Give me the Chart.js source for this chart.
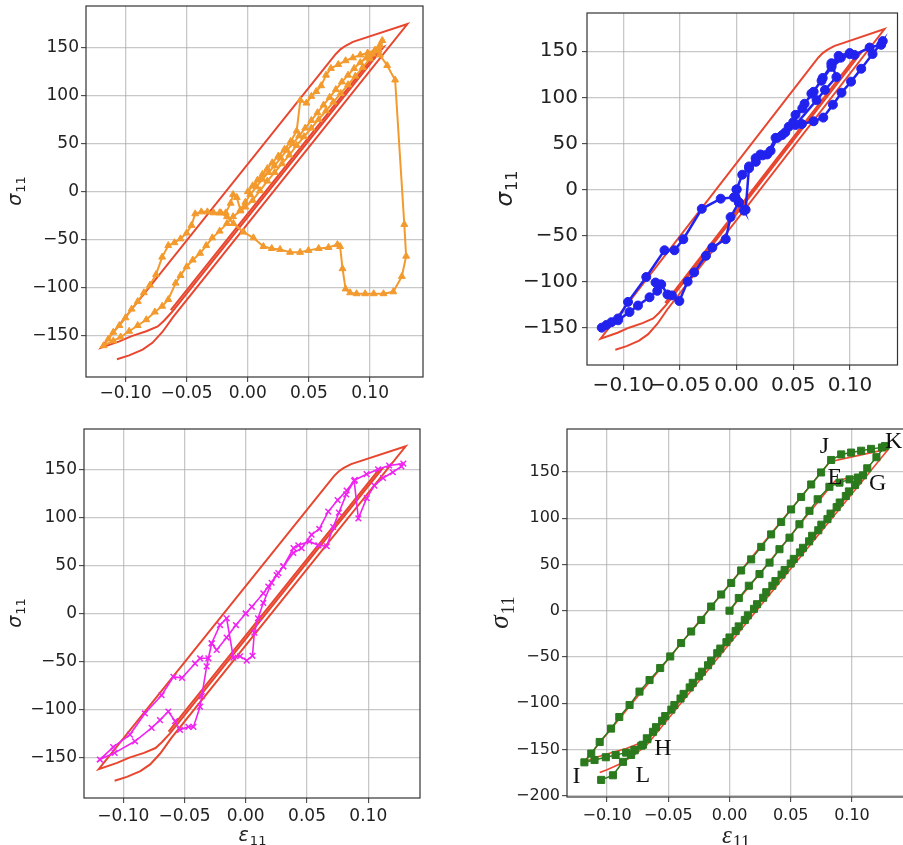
<!DOCTYPE html>
<html>
<head>
<meta charset="utf-8">
<script src="https://cdn.jsdelivr.net/npm/chart.js@4.4.0/dist/chart.umd.min.js"></script>
<style>
body { margin: 0; background: #fff; width: 903px; height: 845px; overflow: hidden; position: relative; }
canvas { position: absolute; }
</style>
</head>
<body>
<canvas id="c1" width="450" height="405" style="left:0;top:0"></canvas>
<canvas id="c2" width="453" height="405" style="left:450px;top:0"></canvas>
<canvas id="c3" width="450" height="435" style="left:0;top:410px"></canvas>
<canvas id="c4" width="460" height="435" style="left:450px;top:410px"></canvas>
<script>
// tick values
const xTicks = [-0.10, -0.05, 0.00, 0.05, 0.10];
const yTicks = [-150, -100, -50, 0, 50, 100, 150];
const yTicks4 = [-200, -150, -100, -50, 0, 50, 100, 150];

// reference curve (red) used in the first three panels, [strain, stress]
const refPath = [[-0.063,-123],[0.1075,148],[0.111,150],[-0.062,-125],[-0.0685,-134],[-0.0736,-140],[-0.083,-145],
  [-0.095,-150],[-0.105,-155.5],[-0.12,-162],[0.072,143],[0.076,148],[0.08,151.5],[0.086,155.5],[0.1305,174],
  [-0.061,-130],[-0.066,-139],[-0.07,-146],[-0.078,-157],[-0.086,-164],[-0.097,-170],[-0.107,-174]];

// reference curve (red) of the last panel
const refPath4 = [[0,0],[0.086,140],[0.111,148],[-0.066,-139],[-0.0707,-142],[-0.0843,-149],[-0.1,-155],[-0.11,-159],
  [-0.119,-164],[0.082,161],[0.13,175],[-0.068,-146],[-0.08,-158],[-0.09,-166],[-0.1,-172],[-0.106,-175]];

// orange prediction (panel 1)
const orangePath = [[0,0],[0.004,6],[0.008,12],[0.012,18],[0.016,24],[0.02,30],[0.025,37],[0.03,44],[0.035,52],[0.04,63],
  [0.043,95],[0.048,92],[0.052,99],[0.056,104],[0.06,110],[0.064,121],[0.068,128],[0.074,132],[0.08,136],[0.086,139],
  [0.092,142],[0.098,144],[0.104,147],[0.108,152],
  [0.105,146],[0.1,138],[0.094,129],[0.088,120],[0.082,111],[0.076,102],[0.07,93],[0.064,84],[0.058,75],[0.052,66],
  [0.046,57],[0.04,48],[0.034,38],[0.028,29],[0.022,20],[0.016,11],[0.01,1],[0.004,-9],[-0.002,-16],[-0.006,-20],
  [-0.012,-26],[-0.017,-33],[-0.023,-41],[-0.029,-48],[-0.034,-56],[-0.039,-64],[-0.045,-71],[-0.05,-78],[-0.055,-87],
  [-0.059,-95],[-0.065,-112],[-0.07,-119],[-0.076,-125],[-0.083,-133],[-0.09,-139],[-0.097,-145],[-0.104,-151],
  [-0.11,-155],[-0.118,-160],
  [-0.114,-153],[-0.11,-146],[-0.105,-139],[-0.1,-131],[-0.095,-122],[-0.09,-114],[-0.085,-105],[-0.08,-97],[-0.075,-86],
  [-0.07,-68],[-0.065,-56],[-0.06,-53],[-0.055,-49],[-0.05,-43],[-0.046,-35],[-0.043,-23],[-0.038,-21],[-0.033,-21],
  [-0.028,-22],[-0.023,-22],[-0.018,-22],[-0.014,-12],[-0.012,-3],[-0.009,-6],[-0.006,-19],[-0.002,-11],[0.002,-3],
  [0.007,5],[0.012,13],[0.017,20],[0.022,27],[0.027,35],[0.032,43],[0.037,50],[0.042,58],[0.047,66],[0.052,74],
  [0.057,82],[0.062,90],[0.067,98],[0.072,106],[0.077,114],[0.082,121],[0.087,128],[0.092,134],[0.097,139],
  [0.102,143],[0.107,147],[0.11,157],
  [0.108,142],[0.114,131],[0.1205,116],[0.128,-34],[0.1295,-67],[0.126,-88],[0.119,-104],[0.111,-106],[0.103,-106],
  [0.096,-106],[0.089,-106],[0.0837,-105],[0.08,-101],[0.0775,-80],[0.0755,-57],[0.0733,-55],[0.066,-58],[0.058,-59],
  [0.0496,-61],[0.0428,-63],[0.0346,-63],[0.0264,-60],[0.0196,-59],[0.0128,-57],[0.0046,-48],[-0.0035,-42],
  [-0.0117,-33],[-0.017,-26],[-0.022,-22]];

// blue prediction (panel 2)
const bluePath = [[0,0],[0.005,16],[0.011,23],[0.0168,34],[0.021,38],[0.027,38],[0.0344,56],[0.0402,59],[0.046,68],
  [0.052,81],[0.06,93],[0.068,106],[0.076,121],[0.0838,135],[0.092,143],[0.0998,147],[0.104,146],[0.1174,154],
  [0.1276,157],[0.129,161],[0.12,147],[0.11,131],[0.101,117],[0.0926,105],[0.085,92],[0.0765,78],[0.068,74],
  [0.0576,71],[0.052,70],[0.0706,97],[0.078,108],[0.0881,122],[0.0837,137],[0.09,145],[0.0998,148],
  [0.0838,133],[0.075,118],[0.066,104],[0.058,88],[0.05,73],[0.043,62],[0.036,56],[0.03,42],[0.023,37],[0.017,30],
  [0.011,25],[0.008,-22],[0.002,-14],[-0.0053,-30],[-0.0096,-54],[-0.0214,-63],[-0.027,-72],[-0.0374,-90],
  [-0.0432,-100],[-0.0505,-121],[-0.057,-115],[-0.061,-114],[-0.0665,-103],[-0.0715,-101],[-0.07,-110],
  [-0.0768,-117],[-0.087,-126],[-0.0945,-133],[-0.1046,-142],[-0.1148,-147],[-0.119,-150],
  [-0.1104,-144],[-0.1046,-140],[-0.0958,-122],[-0.0797,-95],[-0.0636,-66],[-0.0548,-66],[-0.047,-54],
  [-0.0307,-21],[-0.014,-10],[-0.0023,-8.5],[0.002,-14],[0.0066,-23],[0,0]];

// magenta prediction (panel 3)
const magentaPath = [[0,0],[0.005,7],[0.0143,21],[0.0184,28],[0.0252,40],[0.0306,49],[0.0388,63],[0.0456,68],
  [0.0537,82],[0.06,88],[0.0673,106],[0.075,118],[0.0823,128],[0.089,139],[0.0986,145],[0.108,150],[0.117,154],
  [0.1286,156],[0.127,153],[0.12,147],[0.112,141],[0.105,133],[0.0987,120],[0.0919,99],[0.0885,138],[0.082,124],
  [0.076,105],[0.0714,90],[0.0661,70],[0.0592,71],[0.052,75],[0.0429,71],[0.039,68],[0.0307,49],[0.0266,42],
  [0.0211,32],[0.0143,11],[0.01,-5],[0.007,-20],[0.0055,-44],[0.0008,-49],[-0.0046,-44.5],[-0.0101,-46],
  [-0.0156,-5],[-0.021,-12],[-0.0278,-31],[-0.0305,-46.6],[-0.0373,-46.6],[-0.0414,-52],[-0.052,-67],[-0.059,-66],
  [-0.0687,-85],[-0.0823,-104],[-0.0945,-126],[-0.1082,-139],[-0.119,-152],[-0.107,-145],[-0.0904,-133],
  [-0.0768,-119],[-0.07,-111],[-0.0632,-102],[-0.0577,-112],[-0.0537,-121],[-0.0468,-118],[-0.0427,-118],
  [-0.0373,-97],[-0.0359,-86],[-0.0319,-55],[-0.0278,-31],[-0.0237,-38],[-0.0156,-25],[-0.008,-12],[0,0]];

// green prediction (panel 4)
const greenPath = [[0,0],[0.0076,13.7],[0.0158,27],[0.0245,39.6],[0.0327,52],[0.0408,66.5],[0.049,79],[0.0571,93.5],
  [0.0653,108],[0.072,120.5],[0.0816,134],[0.0898,138.5],[0.098,142],[0.1048,144],[0.109,146.4],
  [0.1025,136],[0.095,124],[0.0875,112],[0.08,99],[0.0725,87],[0.065,75],[0.0575,63],[0.05,51],[0.0425,39],
  [0.035,27],[0.0275,14],[0.02,2],[0.0125,-10],[0.005,-22],[-0.0025,-34],[-0.01,-46],[-0.0175,-59],[-0.025,-71],
  [-0.0325,-83],[-0.04,-95],[-0.0475,-107],[-0.055,-119],[-0.0625,-131],[-0.067,-139],
  [-0.0707,-145],[-0.0776,-150.5],[-0.0844,-153.5],[-0.093,-156],[-0.101,-158.5],[-0.1102,-161.5],[-0.1185,-164],
  [-0.1129,-154.5],[-0.106,-142],[-0.0967,-127.5],[-0.09,-115],[-0.0816,-102],[-0.0735,-87.5],[-0.0653,-75],
  [-0.0566,-62],[-0.0484,-49.5],[-0.0395,-35],[-0.0313,-22.5],[-0.0231,-10],[-0.015,4.5],[-0.0068,17.5],
  [0.0014,30],[0.0095,43.5],[0.0177,55.5],[0.0259,69],[0.034,82.5],[0.0422,96],[0.0503,109.5],[0.0585,123],
  [0.0667,136.5],[0.0748,149.5],[0.083,163],
  [0.0912,169],[0.0993,171],[0.1075,173],[0.1156,175],[0.1245,176.5],[0.127,178],
  [0.12,166],[0.1125,154],[0.105,141],[0.0975,129],[0.09,117],[0.0825,105],[0.075,93],[0.0675,81],[0.06,68],
  [0.0525,56],[0.045,44],[0.0375,32],[0.03,20],[0.0225,7],[0.015,-5],[0.0075,-17],[0,-29],[-0.0075,-41],
  [-0.015,-54],[-0.0225,-66],[-0.03,-78],[-0.0375,-90],[-0.045,-102],[-0.0525,-114],[-0.06,-126],[-0.0675,-138],
  [-0.072,-146],[-0.0775,-151],[-0.0803,-156],[-0.087,-163.5],[-0.0952,-178],[-0.1048,-183]];

// point letters of panel 4
const letterNames = ['J', 'K', 'E', 'G', 'H', 'I', 'L'];
const letterX = [0.0776, 0.134, 0.086, 0.121, -0.0544, -0.125, -0.0707];
const letterY = [177, 183, 144, 137, -149, -180, -179];

const gridColor = 'rgba(170,170,170,0.65)';
const redColor = '#e8462f';

function pts(path) {
  return path.map(function (p) { return {x: p[0], y: p[1]}; });
}
function fmtX(v) { return Number(v).toFixed(2).replace('-', '\u2212'); }
function fmtY(v) { return String(v).replace('-', '\u2212'); }

const framePlugin = {
  id: 'frame',
  afterDraw: function (chart) {
    const a = chart.chartArea, ctx = chart.ctx;
    ctx.save();
    ctx.strokeStyle = '#333';
    ctx.lineWidth = 1.2;
    ctx.strokeRect(a.left, a.top, a.right - a.left, a.bottom - a.top);
    ctx.restore();
  }
};

const letterPlugin = {
  id: 'letters',
  afterDatasetsDraw: function (chart) {
    const ctx = chart.ctx, xs = chart.scales.x, ys = chart.scales.y;
    ctx.save();
    ctx.font = '24px "Liberation Serif"';
    ctx.fillStyle = '#111';
    ctx.textAlign = 'center';
    ctx.textBaseline = 'middle';
    for (let i = 0; i < letterNames.length; i++) {
      ctx.fillText(letterNames[i], xs.getPixelForValue(letterX[i]), ys.getPixelForValue(letterY[i]));
    }
    ctx.restore();
  }
};

// symbol with a "11" subscript, like the mathtext labels
function drawSymbol(ctx, sym, x, y, size, family, rotate) {
  ctx.save();
  ctx.translate(x, y);
  if (rotate) ctx.rotate(-Math.PI / 2);
  ctx.fillStyle = '#222';
  ctx.textBaseline = 'alphabetic';
  ctx.font = 'italic ' + size + 'px ' + family;
  const w1 = ctx.measureText(sym).width;
  const sub = Math.round(size * 0.7);
  ctx.font = sub + 'px ' + family;
  const w2 = ctx.measureText('11').width;
  const x0 = -(w1 + w2) / 2, base = size * 0.3;
  ctx.font = 'italic ' + size + 'px ' + family;
  ctx.fillText(sym, x0, base);
  ctx.font = sub + 'px ' + family;
  ctx.fillText('11', x0 + w1 + 1, base + size * 0.22);
  ctx.restore();
}

function axisTextPlugin(c) {
  return {
    id: 'axisText',
    afterDraw: function (chart) {
      const a = chart.chartArea, ctx = chart.ctx;
      drawSymbol(ctx, 'σ', c.yLabX, (a.top + a.bottom) / 2, c.ts, c.family, true);
      if (c.xTitle) drawSymbol(ctx, 'ε', (a.left + a.right) / 2, c.xLabY, c.xs, c.family, false);
    }
  };
}

function lineSet(path, color, width, style, radius) {
  return {
    data: pts(path),
    showLine: true,
    borderColor: color,
    backgroundColor: color,
    borderWidth: width,
    pointStyle: style,
    pointRadius: radius,
    pointBorderColor: color,
    pointBackgroundColor: color,
    pointBorderWidth: style === 'crossRot' ? 1.5 : 1,
    tension: 0
  };
}

function makePanel(id, c) {
  return new Chart(document.getElementById(id), {
    type: 'scatter',
    data: {datasets: c.datasets},
    options: {
      responsive: false,
      animation: false,
      devicePixelRatio: 1,
      events: [],
      layout: {padding: {left: 0, top: c.top, right: c.right, bottom: 0}},
      plugins: {legend: {display: false}, tooltip: {enabled: false}},
      scales: {
        x: {
          type: 'linear', min: c.xMin, max: c.xMax,
          afterBuildTicks: function (s) { s.ticks = xTicks.map(function (v) { return {value: v}; }); },
          afterFit: function (s) { s.height = c.xh; s.paddingLeft = 0; s.paddingRight = 0; },
          grid: {color: gridColor, lineWidth: 1.3, tickLength: 5, tickColor: '#333', tickWidth: 1},
          border: {display: false},
          ticks: {font: {family: 'DejaVu Sans', size: c.fs}, color: '#222', padding: c.xPad,
                  autoSkip: false, maxRotation: 0, minRotation: 0, callback: fmtX}
        },
        y: {
          type: 'linear', min: c.yMin, max: c.yMax,
          afterBuildTicks: function (s) { s.ticks = c.yT.map(function (v) { return {value: v}; }); },
          afterFit: function (s) { s.width = c.yw; s.paddingTop = 0; s.paddingBottom = 0; },
          grid: {color: gridColor, lineWidth: 1.3, tickLength: 5, tickColor: '#333', tickWidth: 1},
          border: {display: false},
          ticks: {font: {family: 'DejaVu Sans', size: c.fs}, color: '#222', padding: c.yPad,
                  autoSkip: false, callback: fmtY}
        }
      }
    },
    plugins: [framePlugin, axisTextPlugin(c)].concat(c.plugins || [])
  });
}

makePanel('c1', {
  top: 6, right: 27, yw: 86, xh: 28, xMin: -0.1323, xMax: 0.1433, yMin: -192.5, yMax: 192.8,
  yT: yTicks, fs: 17, xPad: 1, yPad: 2, ts: 19, yLabX: 15, family: '"DejaVu Sans"',
  datasets: [lineSet(orangePath, '#f39a2e', 2, 'triangle', 4), lineSet(refPath, redColor, 2, 'circle', 0)]
});

makePanel('c2', {
  top: 13, right: 2, yw: 137, xh: 40, xMin: -0.132, xMax: 0.142, yMin: -190.5, yMax: 191.5,
  yT: yTicks, fs: 20, xPad: 4, yPad: 4, ts: 23, yLabX: 55, family: '"DejaVu Sans"',
  datasets: [lineSet(bluePath, '#2222ee', 2.5, 'circle', 4.5), lineSet(refPath, redColor, 2, 'circle', 0)]
});

makePanel('c3', {
  top: 19, right: 30, yw: 84, xh: 47, xMin: -0.132, xMax: 0.1422, yMin: -192, yMax: 192,
  yT: yTicks, fs: 17, xPad: 3, yPad: 2, ts: 19, yLabX: 15, family: '"DejaVu Sans"',
  xTitle: true, xLabY: 425, xs: 19,
  datasets: [lineSet(magentaPath, '#f024f0', 1.6, 'crossRot', 4), lineSet(refPath, redColor, 2, 'circle', 0)]
});

makePanel('c4', {
  top: 19, right: 6, yw: 117, xh: 48, xMin: -0.1327, xMax: 0.1425, yMin: -201.5, yMax: 196.5,
  yT: yTicks4, fs: 16, xPad: 4, yPad: 2, ts: 27, yLabX: 50, family: '"Liberation Serif"',
  xTitle: true, xLabY: 425, xs: 25,
  datasets: [lineSet(greenPath, '#2b7a1e', 1.5, 'rect', 5), lineSet(refPath4, '#f0462f', 1.6, 'circle', 0)],
  plugins: [letterPlugin]
});
</script>
</body>
</html>
